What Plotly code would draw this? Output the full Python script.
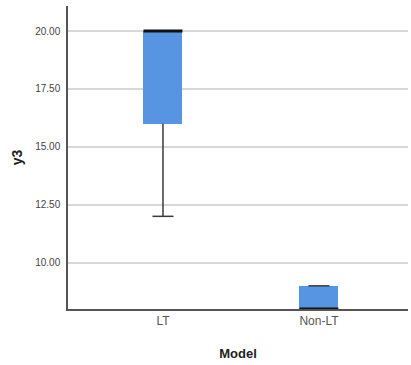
import plotly.graph_objects as go

# Box-plot summary of y3 by Model
groups = ["LT", "Non-LT"]
q1 = [16.0, 8.0]
median = [20.0, 8.0]
q3 = [20.0, 9.0]
lower = [12.0, 8.0]
upper = [20.0, 9.0]

BOX_W = 0.25
CAP_W = 0.135
BOX_COLOR = "#5795E3"
WHISKER = "#3a3a3a"

fig = go.Figure()

pos = list(range(len(groups)))

# Boxes (Q1 -> Q3)
fig.add_trace(go.Bar(
    x=pos, y=[b - a for a, b in zip(q1, q3)], base=q1, width=BOX_W,
    marker=dict(color=BOX_COLOR, line=dict(width=0)), showlegend=False,
    hoverinfo="skip",
))

# Whiskers and caps
wx, wy = [], []
for i in pos:
    for lo, hi in ((lower[i], q1[i]), (q3[i], upper[i])):
        if hi > lo:
            wx += [i, i, None]
            wy += [lo, hi, None]
    for v in (lower[i], upper[i]):
        wx += [i - CAP_W / 2, i + CAP_W / 2, None]
        wy += [v, v, None]
fig.add_trace(go.Scatter(x=wx, y=wy, mode="lines",
                         line=dict(color=WHISKER, width=1.5),
                         showlegend=False, hoverinfo="skip"))

# Median lines
mx, my = [], []
for i in pos:
    mx += [i - BOX_W / 2, i + BOX_W / 2, None]
    my += [median[i], median[i], None]
fig.add_trace(go.Scatter(x=mx, y=my, mode="lines",
                         line=dict(color="#111111", width=3),
                         showlegend=False, hoverinfo="skip"))

fig.update_layout(
    width=411, height=365,
    margin=dict(l=68, r=3, t=6, b=56),
    plot_bgcolor="white", paper_bgcolor="white",
    font=dict(family="Liberation Sans, Arial, sans-serif", color="#444"),
    bargap=0,
)
fig.update_xaxes(
    range=[-0.609, 1.571], tickvals=pos, ticktext=groups,
    tickfont=dict(size=12, color="#555"), ticks="",
    showline=True, linecolor="#555", linewidth=1.5, showgrid=False,
    zeroline=False,
    title=dict(text="<b>Model</b>", font=dict(size=13, color="#222"), standoff=22),
)
fig.update_yaxes(
    range=[8.0, 21.08], tick0=10, dtick=2.5, tickformat=".2f",
    tickfont=dict(size=10, color="#444"), ticks="", ticklabelstandoff=4,
    showline=True, linecolor="#555", linewidth=1.5,
    showgrid=True, gridcolor="#d8d8d8", gridwidth=1.5, zeroline=False,
    title=dict(text="<b>y3</b>", font=dict(size=14, color="#222"), standoff=9),
)

fig.write_html("out.html")
